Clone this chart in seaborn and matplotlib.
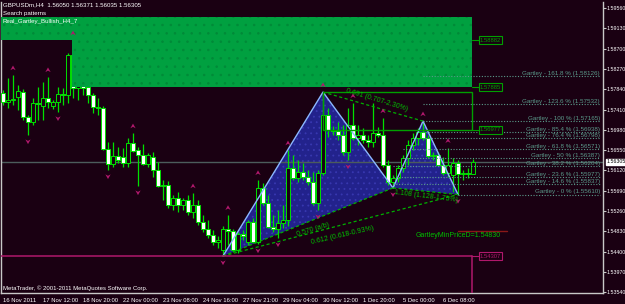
import numpy as np
import pandas as pd
import matplotlib
matplotlib.use("Agg")
import matplotlib.pyplot as plt
import matplotlib.transforms as mtransforms
from matplotlib.patches import Polygon, Rectangle
from matplotlib.path import Path
import seaborn as sns

# ---------------- data ----------------
opens = [1.5776, 1.5757, 1.5761, 1.5768, 1.5778, 1.5725, 1.5715, 1.5755, 1.5748, 1.5765,
         1.5748, 1.5757, 1.5774, 1.5772, 1.5857, 1.5787, 1.5797, 1.5789, 1.5772, 1.5746,
         1.5744, 1.5657, 1.5626, 1.5643, 1.5640, 1.5628, 1.5670, 1.5655, 1.5645, 1.5626,
         1.5640, 1.5613, 1.5579, 1.5581, 1.5539, 1.5554, 1.5539, 1.5549, 1.5524, 1.5539,
         1.5503, 1.5488, 1.5475, 1.5460, 1.5444, 1.5488, 1.5484, 1.5444, 1.5477, 1.5460,
         1.5503, 1.5460, 1.5575, 1.5543, 1.5492, 1.5488, 1.5501, 1.5507, 1.5617, 1.5596,
         1.5609, 1.5598, 1.5588, 1.5543, 1.5607, 1.5729, 1.5698, 1.5696, 1.5687, 1.5651,
         1.5708, 1.5681, 1.5687, 1.5676, 1.5672, 1.5691, 1.5687, 1.5624, 1.5588, 1.5596,
         1.5617, 1.5638, 1.5666, 1.5681, 1.5693, 1.5681, 1.5643, 1.5645, 1.5624, 1.5607,
         1.5602, 1.5628, 1.5604, 1.5607, 1.56050]
highs = [1.5782, 1.5808, 1.5814, 1.5793, 1.5785, 1.5729, 1.5765, 1.5789, 1.5799, 1.5810,
         1.5761, 1.5789, 1.5787, 1.5861, 1.5888, 1.5804, 1.5804, 1.5793, 1.5776, 1.5765,
         1.5748, 1.5672, 1.5672, 1.5662, 1.5660, 1.5681, 1.5691, 1.5662, 1.5668, 1.5649,
         1.5651, 1.5630, 1.5592, 1.5590, 1.5560, 1.5566, 1.5554, 1.5560, 1.5564, 1.5549,
         1.5518, 1.5507, 1.5486, 1.5473, 1.5494, 1.5518, 1.5488, 1.5482, 1.5486, 1.5507,
         1.5511, 1.5592, 1.5585, 1.5560, 1.5518, 1.5528, 1.5539, 1.5655, 1.5645, 1.5634,
         1.5628, 1.5613, 1.5609, 1.5613, 1.5778, 1.5744, 1.5706, 1.5715, 1.5708, 1.5744,
         1.5755, 1.5708, 1.5702, 1.5687, 1.5755, 1.5704, 1.5723, 1.5634, 1.5602, 1.5624,
         1.5645, 1.5676, 1.5691, 1.5702, 1.57165, 1.5687, 1.5651, 1.5651, 1.5640, 1.5660,
         1.5638, 1.5634, 1.5613, 1.5617, 1.56371]
lows = [1.5751, 1.5744, 1.5751, 1.5740, 1.5719, 1.5687, 1.5708, 1.5719, 1.5719, 1.5744,
        1.5742, 1.5736, 1.5751, 1.5755, 1.5765, 1.5761, 1.5772, 1.5755, 1.5734, 1.5729,
        1.5655, 1.5613, 1.5619, 1.5628, 1.5619, 1.5619, 1.5651, 1.5579, 1.5624, 1.5619,
        1.5598, 1.5577, 1.5549, 1.5532, 1.5528, 1.5524, 1.5528, 1.5518, 1.5511, 1.5496,
        1.5482, 1.5469, 1.5454, 1.5448, 1.54307, 1.5454, 1.5439, 1.5437, 1.5465, 1.5454,
        1.5458, 1.5456, 1.5539, 1.5490, 1.5482, 1.5469, 1.5490, 1.5494, 1.5592, 1.5588,
        1.5592, 1.5581, 1.5539, 1.5528, 1.5602, 1.5683, 1.5687, 1.5676, 1.5645, 1.5634,
        1.5676, 1.5666, 1.5670, 1.5662, 1.5662, 1.5683, 1.5619, 1.5581, 1.5575, 1.5588,
        1.5609, 1.5624, 1.5655, 1.5666, 1.5676, 1.5638, 1.5634, 1.5621, 1.5602, 1.5598,
        1.5566, 1.5561, 1.5592, 1.5596, 1.56035]
closes = [1.5757, 1.5761, 1.5763, 1.5780, 1.5725, 1.5715, 1.5755, 1.5753, 1.5765, 1.5757,
          1.5757, 1.5774, 1.5772, 1.5857, 1.5787, 1.5797, 1.5787, 1.5772, 1.5746, 1.5744,
          1.5657, 1.5626, 1.5643, 1.5634, 1.5628, 1.5670, 1.5653, 1.5645, 1.5626, 1.5645,
          1.5613, 1.5579, 1.5581, 1.5539, 1.5554, 1.5539, 1.5549, 1.5524, 1.5539, 1.5503,
          1.5488, 1.5475, 1.5460, 1.5465, 1.5488, 1.5484, 1.5444, 1.5477, 1.5473, 1.5503,
          1.5460, 1.5575, 1.5543, 1.5492, 1.5488, 1.5501, 1.5507, 1.5617, 1.5596, 1.5609,
          1.5598, 1.5588, 1.5543, 1.5607, 1.5729, 1.5698, 1.5696, 1.5687, 1.5651, 1.5708,
          1.5681, 1.5687, 1.5676, 1.5672, 1.5691, 1.5687, 1.5624, 1.5588, 1.5596, 1.5617,
          1.5638, 1.5666, 1.5681, 1.5693, 1.5681, 1.5643, 1.5645, 1.5624, 1.5607, 1.5624,
          1.5628, 1.5604, 1.5607, 1.5604, 1.56305]

date_tick_bars = [0, 8, 16, 24, 32, 40, 48, 56, 64, 72, 80, 88]
date_labels = ["16 Nov 2011", "17 Nov 12:00", "18 Nov 20:00", "22 Nov 00:00",
               "23 Nov 08:00", "24 Nov 16:00", "27 Nov 21:00", "29 Nov 04:00",
               "30 Nov 12:00", "1 Dec 20:00", "5 Dec 00:00", "6 Dec 08:00"]
price_ticks = [1.59560, 1.59130, 1.58700, 1.58270, 1.57840, 1.57410, 1.56980,
               1.56550, 1.56120, 1.55690, 1.55260, 1.54830, 1.54400, 1.53970, 1.53540]

pattern_points = ["X", "A", "B", "C", "D"]
pattern_bars = [44, 64, 78, 84, 91]
pattern_prices = [1.54307, 1.5778, 1.5575, 1.57165, 1.55610]

fib_ratios = ["161.8", "123.6", "100", "85.4", "76.4", "61.8", "50", "38.2", "23.6", "14.6", "0"]
fib_prices = [1.58126, 1.57532, 1.57165, 1.56938, 1.56798, 1.56571, 1.56387,
              1.56204, 1.55977, 1.55837, 1.55610]
fib_start_bars = [84, 84, 84, 84, 84, 80, 80, 78, 78, 78, 91]

up_fractals = [2, 9, 14, 26, 38, 45, 51, 57, 64, 70, 76, 84, 89]
down_fractals = [5, 11, 21, 27, 44, 51, 55, 63, 69, 78, 91]

zone_levels = [1.5937, 1.58882, 1.57885, 1.5778, 1.56977]
zone_labels = ["1.58882", "1.57885", "1.56977"]
x_low_level = 1.54307
x_low_label = "1.54307"
min_price_d = 1.54830
current_price = 1.56305

# ---------------- style ----------------
BG = "#1a0012"
LIME = "#00e000"
MAG = "#b0186c"
GREEN_FILL = "#00a040"
BLUE_FILL = "#22228c"
EDGE_BLUE = "#8cb8ff"
FIB_COL = "#5a9a8a"
TXT_GREEN = "#00c000"

sns.set_theme(style="dark")
plt.rcParams["font.family"] = ["Liberation Sans", "DejaVu Sans"]
plt.rcParams["hatch.linewidth"] = 0.6
FS = 4.2
YFS = 3.8

fig = plt.figure(figsize=(6.25, 3.04), dpi=100, facecolor=BG)
ax = fig.add_axes([1 / 625, 11 / 304, 602 / 625, 291 / 304])
ax.set_facecolor(BG)

df = pd.DataFrame({"open": opens, "high": highs, "low": lows, "close": closes})
df["bar"] = np.arange(len(df))
bear = df["close"] < df["open"]

# ---- pattern triangles (behind candles)
px = dict(zip(pattern_points, pattern_bars))
py = dict(zip(pattern_points, pattern_prices))
for tri in (("X", "A", "B"), ("B", "C", "D")):
    verts = [(px[k], py[k]) for k in tri]
    ax.add_patch(Polygon(verts, closed=True, facecolor=BLUE_FILL, edgecolor="none", zorder=1))
    ax.add_patch(Polygon(verts, closed=True, facecolor="none", edgecolor="#3838b0",
                         hatch="...", linewidth=0, zorder=1.1))

# ---- current price line
ax.axhline(current_price, color="#4c5c5c", lw=1.0, zorder=1.5)

# ---- candles
ax.vlines(df["bar"], df["low"], df["high"], color=LIME, lw=0.9, zorder=2)
body_bottom = np.minimum(df["open"], df["close"])
body_h = np.maximum(np.abs(df["close"] - df["open"]), 0.00005)
ax.bar(df["bar"], body_h, bottom=body_bottom, width=0.62,
       color=np.where(bear, "white", BG), edgecolor=LIME, linewidth=0.7, zorder=3)

# ---- pattern edges
seq = ["X", "A", "B", "C", "D"]
edge_df = pd.DataFrame({"bar": [px[k] for k in seq], "price": [py[k] for k in seq]})
sns.lineplot(data=edge_df, x="bar", y="price", sort=False, color=EDGE_BLUE, lw=1.0,
             ax=ax, zorder=3.5, legend=False)
for a, b in (("X", "B"), ("B", "D"), ("X", "D"), ("A", "C")):
    ax.plot([px[a], px[b]], [py[a], py[b]], color="#00b000", lw=0.9,
            ls=(0, (2.5, 2)), zorder=3.6)

# ---- zones (green rectangles over candles)
right_bar = 93.8
z1 = (-0.6, zone_levels[1], right_bar + 0.6, zone_levels[0] - zone_levels[1])
z2 = (13.9, zone_levels[2], right_bar - 13.9, zone_levels[1] - zone_levels[2])
for r in (z1, z2):
    ax.add_patch(Rectangle(r[:2], r[2], r[3], facecolor=GREEN_FILL, edgecolor="none", zorder=4))
    ax.add_patch(Rectangle(r[:2], r[2], r[3], facecolor="none", edgecolor="#008a38",
                           hatch="..", linewidth=0, zorder=4.1))
ax.add_patch(Rectangle((pattern_bars[1], zone_levels[4]), right_bar - pattern_bars[1],
                       zone_levels[3] - zone_levels[4], facecolor="none",
                       edgecolor="#00a000", lw=1.0, zorder=4))
for lvl, lab in zip(zone_levels[1:3] + [zone_levels[4]], zone_labels):
    ax.plot([right_bar, 95.2], [lvl, lvl], color="#00a000", lw=0.8, zorder=4)
    ax.text(95.4, lvl, lab, color="#00a000", fontsize=FS, va="center", ha="left",
            zorder=6, bbox=dict(boxstyle="square,pad=0.2", fc=BG, ec="#00a000", lw=0.8))

# ---- X low line (magenta)
ax.plot([-0.6, right_bar], [x_low_level, x_low_level], color=MAG, lw=1.1, zorder=4)
ax.plot([right_bar, right_bar], [x_low_level, 1.5300], color=MAG, lw=1.1, zorder=4)
ax.plot([right_bar, 95.2], [x_low_level, x_low_level], color=MAG, lw=0.8, zorder=4)
ax.text(95.4, x_low_level, x_low_label, color=MAG, fontsize=FS, va="center", ha="left",
        zorder=6, bbox=dict(boxstyle="square,pad=0.2", fc=BG, ec=MAG, lw=0.8))

# ---- min price D line + label
ax.plot([pattern_bars[4], 100.8], [min_price_d, min_price_d], color="#8a1818", lw=1.0, zorder=4)
ax.text(91.0, min_price_d - 0.00015, "GartleyMinPriceD=1.54830", color=TXT_GREEN,
        fontsize=5.0, ha="center", va="top", zorder=6)

# ---- fibonacci levels
for r, p, sb in zip(fib_ratios, fib_prices, fib_start_bars):
    ax.plot([sb, 119.5], [p, p], color=FIB_COL, lw=0.8, ls=(0, (1, 1.5)), zorder=4)
    ax.text(119.4, p + 0.00005, f"Gartley - {r} % ({p:.5f})", color=FIB_COL,
            fontsize=4.5, ha="right", va="bottom", zorder=6)

# ---- ratio labels
ax.text(74.8, 1.5762, "0.691 (0.707-2.30%)", color=TXT_GREEN, fontsize=5.0,
        rotation=-17, ha="center", va="center", zorder=6, rotation_mode="anchor")
ax.text(62.0, 1.5487, "0.570 (a/b)", color=TXT_GREEN, fontsize=5.0,
        rotation=17, ha="center", va="center", zorder=6, rotation_mode="anchor")
ax.text(68.0, 1.5474, "0.612 (0.618-0.93%)", color=TXT_GREEN, fontsize=5.0,
        rotation=13, ha="center", va="center", zorder=6, rotation_mode="anchor")
ax.text(84.6, 1.5556, "1.108 (1.128-1.75%)", color=TXT_GREEN, fontsize=5.0,
        rotation=-7, ha="center", va="center", zorder=6, rotation_mode="anchor")

# ---- fractal arrows
up_path = Path([(0, 1), (0.9, -0.6), (0, -0.1), (-0.9, -0.6), (0, 1)],
               [Path.MOVETO, Path.LINETO, Path.LINETO, Path.LINETO, Path.CLOSEPOLY])
down_path = Path([(0, -1), (0.9, 0.6), (0, 0.1), (-0.9, 0.6), (0, -1)],
                 [Path.MOVETO, Path.LINETO, Path.LINETO, Path.LINETO, Path.CLOSEPOLY])
up_df = pd.DataFrame({"bar": up_fractals, "price": [highs[i] + 0.0014 for i in up_fractals]})
dn_df = pd.DataFrame({"bar": down_fractals, "price": [lows[i] - 0.0013 for i in down_fractals]})
sns.scatterplot(data=up_df, x="bar", y="price", marker=up_path, s=18, color=MAG,
                edgecolor="none", ax=ax, zorder=5, legend=False)
sns.scatterplot(data=dn_df, x="bar", y="price", marker=down_path, s=18, color=MAG,
                edgecolor="none", ax=ax, zorder=5, legend=False)

# ---- axes
ax.set_xlim(-0.4, 120)
ax.set_ylim(1.53524, 1.59688)
ax.set_xlabel("")
ax.set_ylabel("")
ax.grid(False)
ax.spines["top"].set_visible(False)
for s in ("right", "bottom", "left"):
    ax.spines[s].set_visible(True)
    ax.spines[s].set_color("#c8c8c8")
    ax.spines[s].set_linewidth(1.0)
ax.yaxis.tick_right()
ax.set_yticks(price_ticks)
ax.set_yticklabels([f"{v:.5f}" for v in price_ticks])
ax.tick_params(axis="y", colors="#c8c8c8", labelcolor="white", length=2.0, width=0.8,
               pad=0.6, labelsize=YFS, direction="out")
ax.set_xticks(date_tick_bars)
ax.set_xticklabels(date_labels, ha="left")
ax.tick_params(axis="x", colors="#c8c8c8", labelcolor="white", length=2.5, width=0.8,
               pad=0.8, labelsize=FS, direction="out")

# current price tag on the axis
trans = mtransforms.blended_transform_factory(ax.transAxes, ax.transData)
ax.text(1.0055, current_price, f"{current_price:.5f}", transform=trans, color="black",
        fontsize=YFS, va="center", ha="left", zorder=10, clip_on=False,
        bbox=dict(boxstyle="square,pad=0.08", fc="white", ec="white"))

# ---- header / footer text
fig.text(3 / 625, 1 - 5 / 304, "GBPUSDm,H4  1.56050 1.56371 1.56035 1.56305", color="white",
         fontsize=4.4, va="center", ha="left", zorder=10)
fig.text(3 / 625, 1 - 13.5 / 304, "Search patterns", color="white",
         fontsize=4.4, va="center", ha="left", zorder=10)
fig.text(3 / 625, 1 - 22 / 304, "Real_Gartley_Bullish_H4_7", color="white",
         fontsize=4.4, va="center", ha="left", zorder=10)
fig.text(3 / 625, 1 - 288 / 304, "MetaTrader, \u00a9 2001-2011 MetaQuotes Software Corp.",
         color="white", fontsize=4.3, va="center", ha="left", zorder=10)

fig.savefig("out.png", dpi=100, facecolor=BG)
